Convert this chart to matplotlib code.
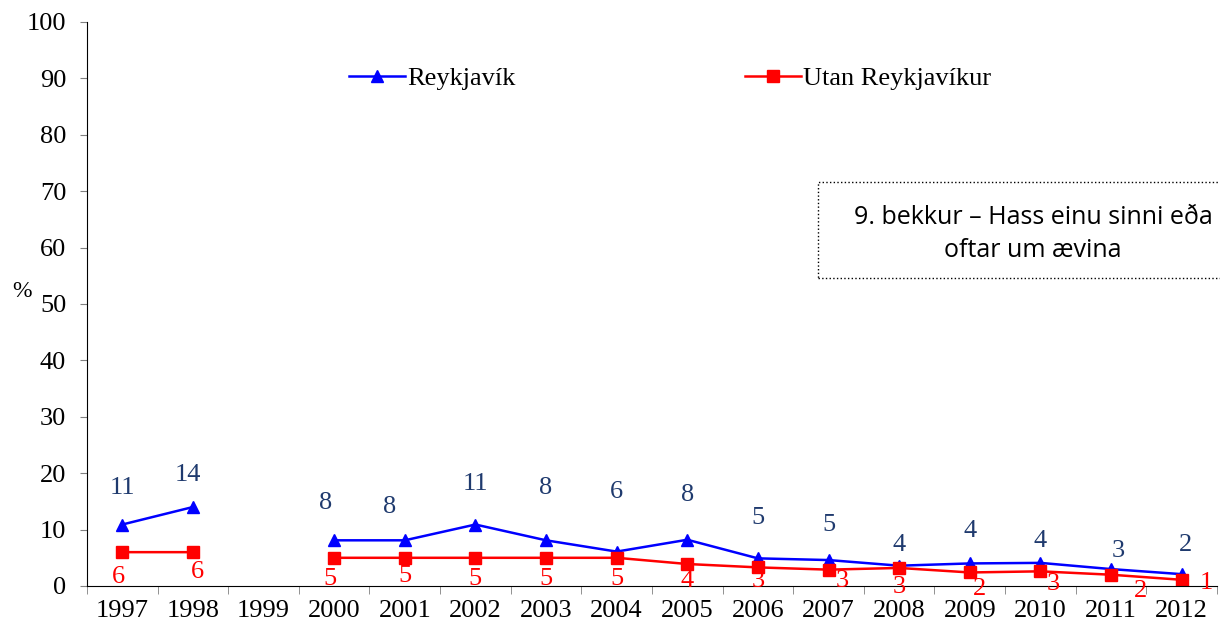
import numpy as np
import matplotlib.pyplot as plt
from matplotlib.patches import Rectangle

years = ["1997", "1998", "1999", "2000", "2001", "2002", "2003", "2004",
         "2005", "2006", "2007", "2008", "2009", "2010", "2011", "2012"]
reykjavik = [10.9, 14.0, np.nan, 8.1, 8.1, 10.9, 8.1, 6.1,
             8.2, 4.9, 4.6, 3.6, 4.0, 4.1, 3.0, 2.1]
utan = [6.0, 6.0, np.nan, 5.0, 5.0, 5.0, 5.0, 5.0,
        3.9, 3.3, 2.9, 3.2, 2.4, 2.6, 2.0, 1.1]

# label offsets in points (dx, dy)
rvk_off = [(0, 26), (-4, 23), (0, 0), (-6, 27), (-11, 24), (0, 29), (0, 38), (0, 43),
           (0, 32), (0, 29), (0, 25), (0, 15), (0, 23), (0, 16), (5, 13), (3, 21)]
utan_off = [(-3, -18), (3, -14), (0, 0), (-3, -15), (0, -13), (0, -15), (0, -15), (0, -15),
            (0, -12), (0, -10), (10, -8), (0, -14), (7, -12), (9, -9), (21, -12), (18, -2)]

plt.rcParams['font.family'] = ['Liberation Serif', 'DejaVu Serif']

fig = plt.figure(figsize=(12.2, 6.26), dpi=100)
ax = fig.add_axes([0.0713, 0.0639, 0.9262, 0.901])

x = np.arange(len(years))
ax.plot(x, reykjavik, color="#0000FF", lw=1.8, marker="^", ms=9, label="Reykjavík")
ax.plot(x, utan, color="#FF0000", lw=1.8, marker="s", ms=9, label="Utan Reykjavíkur")

for i in range(len(years)):
    if not np.isnan(reykjavik[i]):
        ax.annotate(str(int(round(reykjavik[i]))), (x[i], reykjavik[i]),
                    xytext=rvk_off[i], textcoords="offset points",
                    ha="center", va="center", fontsize=19, color="#1F3A6E")
    if not np.isnan(utan[i]):
        ax.annotate(str(int(round(utan[i]))), (x[i], utan[i]),
                    xytext=utan_off[i], textcoords="offset points",
                    ha="center", va="center", fontsize=19, color="#FF0000")

ax.set_xlim(-0.5, len(years) - 0.5)
ax.set_ylim(0, 100)
ax.set_yticks(range(0, 101, 10))
ax.set_xticks(x)
ax.set_xticklabels(years)
ax.set_xticks(np.arange(-0.5, len(years), 1), minor=True)
ax.tick_params(axis="x", which="major", length=0, pad=10, labelsize=19)
ax.tick_params(axis="x", which="minor", length=6, color="#808080")
ax.tick_params(axis="y", length=5, color="#808080", pad=10, labelsize=19)
ax.spines["top"].set_visible(False)
ax.spines["right"].set_visible(False)

fig.text(0.018, 0.535, "%", fontsize=17, ha="center", va="center")

ax.legend(loc="center left", bbox_to_anchor=(0.232, 0.9), ncol=2, frameon=False,
          fontsize=19, handlelength=2.1, handletextpad=0.1, columnspacing=8.7,
          borderpad=0, borderaxespad=0)

box = Rectangle((818 / 1220, (626 - 278) / 626), 0.4, 96 / 626, transform=fig.transFigure,
                fill=False, ls=":", lw=1, ec="black", clip_on=False)
fig.patches.append(box)
fig.text(1033 / 1220, (626 - 234) / 626, "9. bekkur – Hass einu sinni eða\noftar um ævina",
         ha="center", va="center", fontsize=18, family=["Open Sans", "DejaVu Sans"],
         linespacing=1.45)

fig.savefig("out.png")
